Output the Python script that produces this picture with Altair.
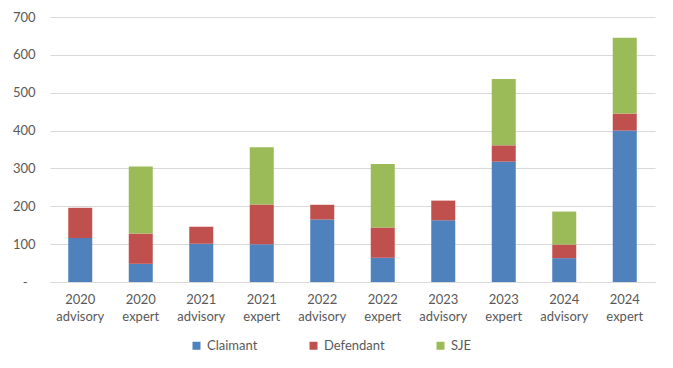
import altair as alt
import pandas as pd

categories = ["2020 advisory", "2020 expert", "2021 advisory", "2021 expert",
              "2022 advisory", "2022 expert", "2023 advisory", "2023 expert",
              "2024 advisory", "2024 expert"]
series = ["Claimant", "Defendant", "SJE"]
claimant = [116, 48, 101, 100, 165, 64, 163, 318, 63, 400]
defendant = [80, 80, 45, 105, 39, 80, 52, 43, 36, 45]
sje = [0, 177, 0, 151, 0, 168, 0, 175, 87, 200]
colors = ["#4F81BD", "#C0504D", "#9BBB59"]
y_ticks = [0, 100, 200, 300, 400, 500, 600, 700]

rows = []
for i, cat in enumerate(categories):
    for k, (name, vals) in enumerate(zip(series, [claimant, defendant, sje])):
        rows.append({"category": cat, "series": name, "order": k, "value": vals[i]})
df = pd.DataFrame(rows)

FONT = "Lato"
TXT = "#595959"

chart = alt.Chart(df).mark_bar(size=24).encode(
    x=alt.X("category:N", sort=categories, title=None,
            axis=alt.Axis(labelAngle=0, labelExpr="split(datum.label, ' ')",
                          labelFont=FONT, labelFontSize=13, labelColor=TXT,
                          labelLineHeight=17, labelPadding=11, ticks=False,
                          domainColor="#D9D9D9", labelBaseline="top")),
    y=alt.Y("value:Q", stack="zero", title=None,
            scale=alt.Scale(domain=[0, 700], nice=False),
            axis=alt.Axis(values=y_ticks,
                          labelExpr="datum.value == 0 ? '-' : datum.label",
                          labelFont=FONT, labelFontSize=13, labelColor=TXT,
                          ticks=False, domain=False,
                          labelPadding={"condition": {"test": "datum.value == 0", "value": 23}, "value": 15},
                          gridColor="#D9D9D9", gridWidth=1)),
    color=alt.Color("series:N", scale=alt.Scale(domain=series, range=colors),
                    legend=alt.Legend(title=None, orient="none", direction="horizontal",
                                      legendX=140, legendY=322,
                                      symbolType="square", symbolSize=64,
                                      symbolStrokeWidth=0, columnPadding=49,
                                      labelFont=FONT, labelFontSize=13,
                                      labelColor=TXT)),
    order=alt.Order("order:Q"),
).properties(
    width=605, height=265,
    autosize=alt.AutoSizeParams(type="none"),
    padding={"left": 42, "top": 9, "right": 10, "bottom": 80},
).configure_view(stroke=None)

chart.save("out.html", embed_options={"renderer": "svg", "actions": False})
